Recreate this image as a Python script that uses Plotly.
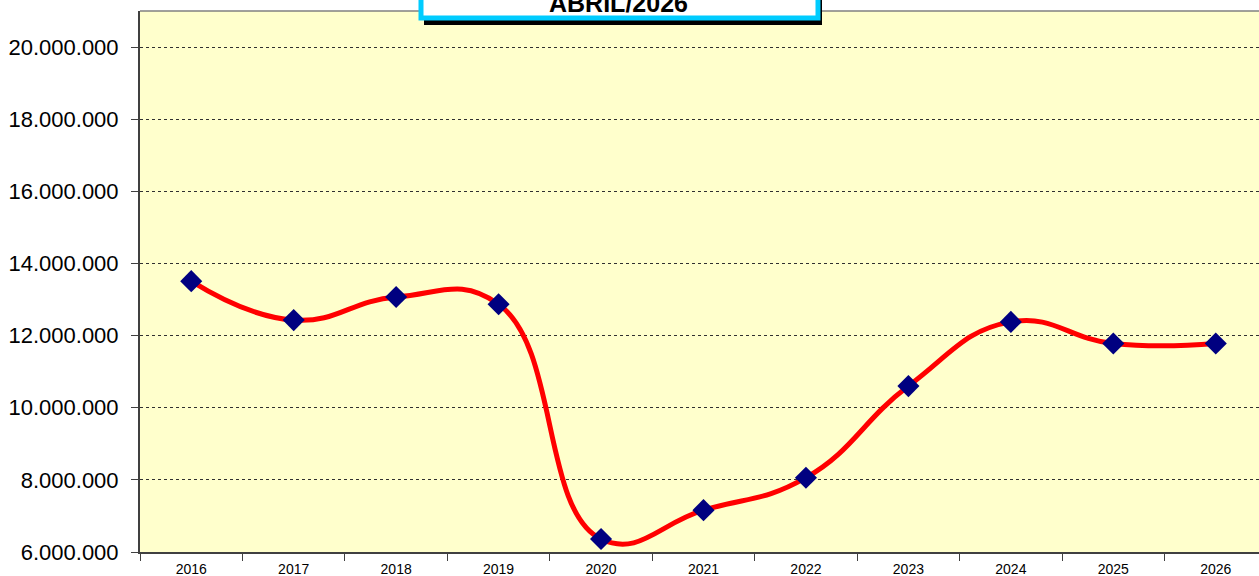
import plotly.graph_objects as go

years = ["2016", "2017", "2018", "2019", "2020", "2021", "2022", "2023", "2024", "2025", "2026"]
values = [13510000, 12430000, 13070000, 12870000, 6360000, 7160000, 8060000, 10600000, 12380000, 11780000, 11780000]
y_ticks = [6000000, 8000000, 10000000, 12000000, 14000000, 16000000, 18000000, 20000000]
y_tick_labels = ["6.000.000", "8.000.000", "10.000.000", "12.000.000", "14.000.000", "16.000.000", "18.000.000", "20.000.000"]
title_text = "ABRIL/2026"

fig = go.Figure()
fig.add_trace(go.Scatter(
    x=years, y=values, mode="lines+markers",
    line=dict(color="#FF0000", width=5, shape="spline", smoothing=1.3),
    marker=dict(symbol="diamond", size=17, color="#000080", line=dict(width=0)),
    cliponaxis=True, showlegend=False, hoverinfo="x+y",
))

W, H = 1259, 576
L, R, T, B = 140, 0, 11, 24
pw = W - L - R
ph = H - T - B

def px(x):
    return (x - L) / pw

def py(y):
    return (H - B - y) / ph

shapes = [
    # top border of plot
    dict(type="line", xref="paper", yref="paper", x0=0, x1=1, y0=1, y1=1,
         line=dict(color="#808080", width=1.5), layer="above"),
    # shadow
    dict(type="rect", xref="paper", yref="paper", x0=px(424), x1=px(822), y0=py(25), y1=py(-40),
         fillcolor="#000000", line=dict(width=0), layer="above"),
    # box
    dict(type="rect", xref="paper", yref="paper", x0=px(421), x1=px(818), y0=py(18), y1=py(-40),
         fillcolor="#FFFFFF", line=dict(color="#00CCFF", width=5), layer="above"),
]

fig.update_layout(
    width=W, height=H,
    margin=dict(l=L, r=R, t=T, b=B, pad=0),
    paper_bgcolor="#FFFFFF", plot_bgcolor="#FFFFCC",
    font=dict(family="Arial, Liberation Sans, sans-serif", color="#000000"),
    shapes=shapes,
    annotations=[dict(text="<b>" + title_text + "</b>", xref="paper", yref="paper",
                      x=px(618), y=py(3), xanchor="center", yanchor="middle",
                      showarrow=False, font=dict(size=25, color="#000000"))],
    xaxis=dict(
        type="category", range=[-0.5, 10.5 - 8 / 102.5],
        showline=True, linecolor="#404040", linewidth=2,
        ticks="outside", ticklen=7, tickcolor="#404040", tickwidth=1,
        tickson="boundaries", showgrid=False, zeroline=False,
        tickfont=dict(size=14), ticklabelstandoff=3, fixedrange=True,
    ),
    yaxis=dict(
        range=[6000000, 21000000],
        tickvals=y_ticks, ticktext=y_tick_labels,
        showline=True, linecolor="#404040", linewidth=2,
        ticks="outside", ticklen=7, tickcolor="#404040", tickwidth=1,
        showgrid=True, gridcolor="#303030", gridwidth=1, griddash="dot",
        zeroline=False, tickfont=dict(size=22), ticklabelstandoff=8,
    ),
)

fig.write_html("out.html", config={"displayModeBar": False},
               post_script="document.body.style.margin='0px';document.body.style.overflow='hidden';")
